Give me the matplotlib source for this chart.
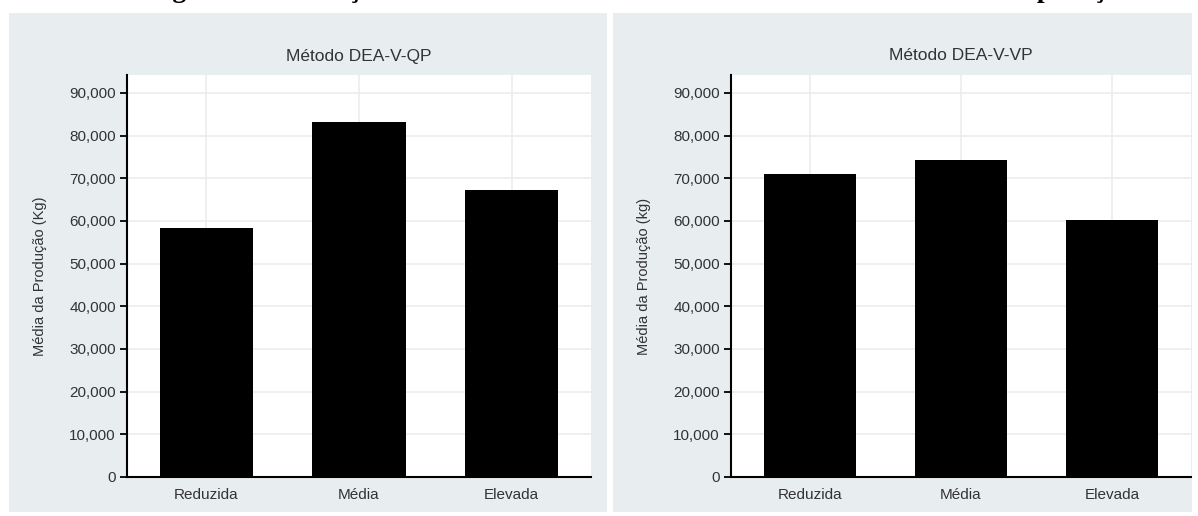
# bar charts: media da producao por metodo DEA
import numpy as np
import matplotlib.pyplot as plt
from matplotlib.patches import Rectangle
from matplotlib.ticker import FuncFormatter

categorias = ['Reduzida', 'Média', 'Elevada']
prod_qp = [58400, 83200, 67300]
prod_vp = [71000, 74300, 60200]
titulos = ['Método DEA-V-QP', 'Método DEA-V-VP']
ylabels = ['Média da Produção (Kg)', 'Média da Produção (kg)']
yticks = np.arange(0, 90001, 10000)
legenda = 'Figura 4 – Produção média nas classes de eficiência conforme o método de aplicação'

plt.rcParams['font.family'] = ['Liberation Sans Narrow', 'Liberation Sans', 'DejaVu Sans']

W, H = 1198., 516.
fig = plt.figure(figsize=(W/100, H/100), dpi=100)
fig.patch.set_facecolor('white')

# panel backgrounds (pixel boxes: x0, y0, x1, y1 from top-left)
paineis = [(9, 13, 607, 512), (613, 13, 1192, 512)]
for (x0, y0, x1, y1) in paineis:
    fig.patches.append(Rectangle((x0/W, 1-y1/H), (x1-x0)/W, (y1-y0)/H,
                                 transform=fig.transFigure, facecolor='#e8eef0',
                                 edgecolor='none', zorder=-5))

# axes boxes in pixels
eixos = [(127, 75, 591, 477), (731, 75, 1191, 477)]
dados = [prod_qp, prod_vp]

fmt = FuncFormatter(lambda v, p: '{:,.0f}'.format(v))
x = np.arange(len(categorias))

for i in range(2):
    x0, y0, x1, y1 = eixos[i]
    ax = fig.add_axes([x0/W, 1-y1/H, (x1-x0)/W, (y1-y0)/H])
    ax.set_facecolor('white')
    ax.bar(x, dados[i], width=0.61, color='black', zorder=3)
    ax.set_xlim(-0.52, 2.52)
    ax.set_ylim(0, 94200)
    ax.set_yticks(yticks)
    ax.yaxis.set_major_formatter(fmt)
    ax.set_xticks(x)
    ax.set_xticklabels(categorias, fontsize=11, color='#333333')
    ax.tick_params(axis='x', length=0, pad=8)
    ax.tick_params(axis='y', length=5, width=1.3, labelsize=11, labelcolor='#333333', pad=3)
    ax.grid(True, color='#ececec', linewidth=1.2, zorder=0)
    for s in ['top', 'right']:
        ax.spines[s].set_visible(False)
    for s in ['left', 'bottom']:
        ax.spines[s].set_linewidth(1.5)
    ax.set_ylabel(ylabels[i], fontsize=10.5, color='#333333', labelpad=16)
    fig.text(((x0+x1)/2)/W, 1-56/H, titulos[i], ha='center', va='center',
             fontsize=12.5, color='#333333')

# caption cut off at the top of the image (only descenders show)
fig.text(0.535, 1+3/H, legenda, ha='center', va='baseline', fontsize=19.8,
         fontweight='bold', family='Liberation Serif')

fig.savefig('out.png', dpi=100)
